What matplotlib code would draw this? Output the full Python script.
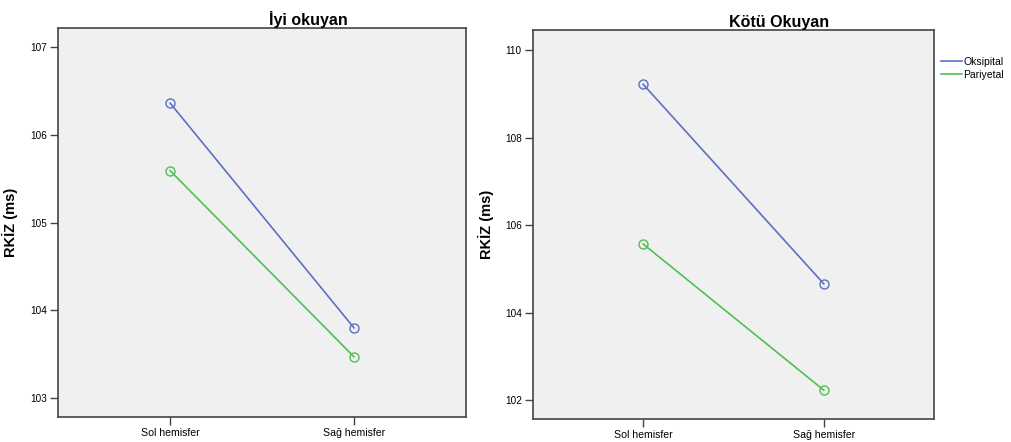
import matplotlib
matplotlib.use("Agg")
import matplotlib.pyplot as plt

# Data (RKİZ in ms)
hemispheres = ["Sol hemisfer", "Sağ hemisfer"]
series_names = ["Oksipital", "Pariyetal"]

iyi_oksipital = [106.36, 103.80]
iyi_pariyetal = [105.59, 103.47]

kotu_oksipital = [109.22, 104.66]
kotu_pariyetal = [105.57, 102.23]

iyi_ticks = [103, 104, 105, 106, 107]
kotu_ticks = [102, 104, 106, 108, 110]

colors = ["#5c70c4", "#4fc052"]

plt.rcParams["font.family"] = ["Liberation Sans", "DejaVu Sans"]

fig = plt.figure(figsize=(10.11, 4.42), dpi=100)
ax1 = fig.add_axes([0.0574, 0.0566, 0.4036, 0.880])
ax2 = fig.add_axes([0.5272, 0.052, 0.3966, 0.880])


def style_panel(ax, title, ticks, ylim):
    ax.set_facecolor("#f0f0f0")
    for sp in ax.spines.values():
        sp.set_color("#444444")
        sp.set_linewidth(1.2)
    ax.set_xlim(-0.61, 1.61)
    ax.set_ylim(*ylim)
    ax.set_xticks(range(len(hemispheres)))
    ax.set_xticklabels(hemispheres, fontsize=7.6)
    ax.set_yticks(ticks)
    ax.set_yticklabels([str(t) for t in ticks], fontsize=7.2)
    ax.tick_params(direction="out", length=6, width=1, color="#444444", pad=2)
    ax.set_ylabel("RKİZ (ms)", fontsize=10.5, fontweight="bold")
    ax.yaxis.set_label_coords(-0.098, 0.5)
    ax.set_title(title, fontsize=11.5, fontweight="bold", x=0.613, pad=2)


panels = [
    (ax1, "İyi okuyan", [iyi_oksipital, iyi_pariyetal], iyi_ticks, (102.784, 107.216)),
    (ax2, "Kötü Okuyan", [kotu_oksipital, kotu_pariyetal], kotu_ticks, (101.57, 110.46)),
]

for ax, title, vals, ticks, ylim in panels:
    for name, v, c in zip(series_names, vals, colors):
        ax.plot(range(len(hemispheres)), v, color=c, lw=1.2, marker="o",
                markersize=6.5, markerfacecolor="none", markeredgecolor=c,
                markeredgewidth=1.0, label=name)
    style_panel(ax, title, ticks, ylim)

leg_handles = [plt.Line2D([], [], color=c, lw=1.2) for c in colors]
fig.legend(leg_handles, series_names, loc="upper left",
           bbox_to_anchor=(0.931, 0.872), frameon=False, fontsize=7.5,
           handlelength=2.0, handletextpad=0.1, labelspacing=0.3,
           borderaxespad=0, borderpad=0)

fig.savefig("out.png", dpi=100, facecolor="white")
